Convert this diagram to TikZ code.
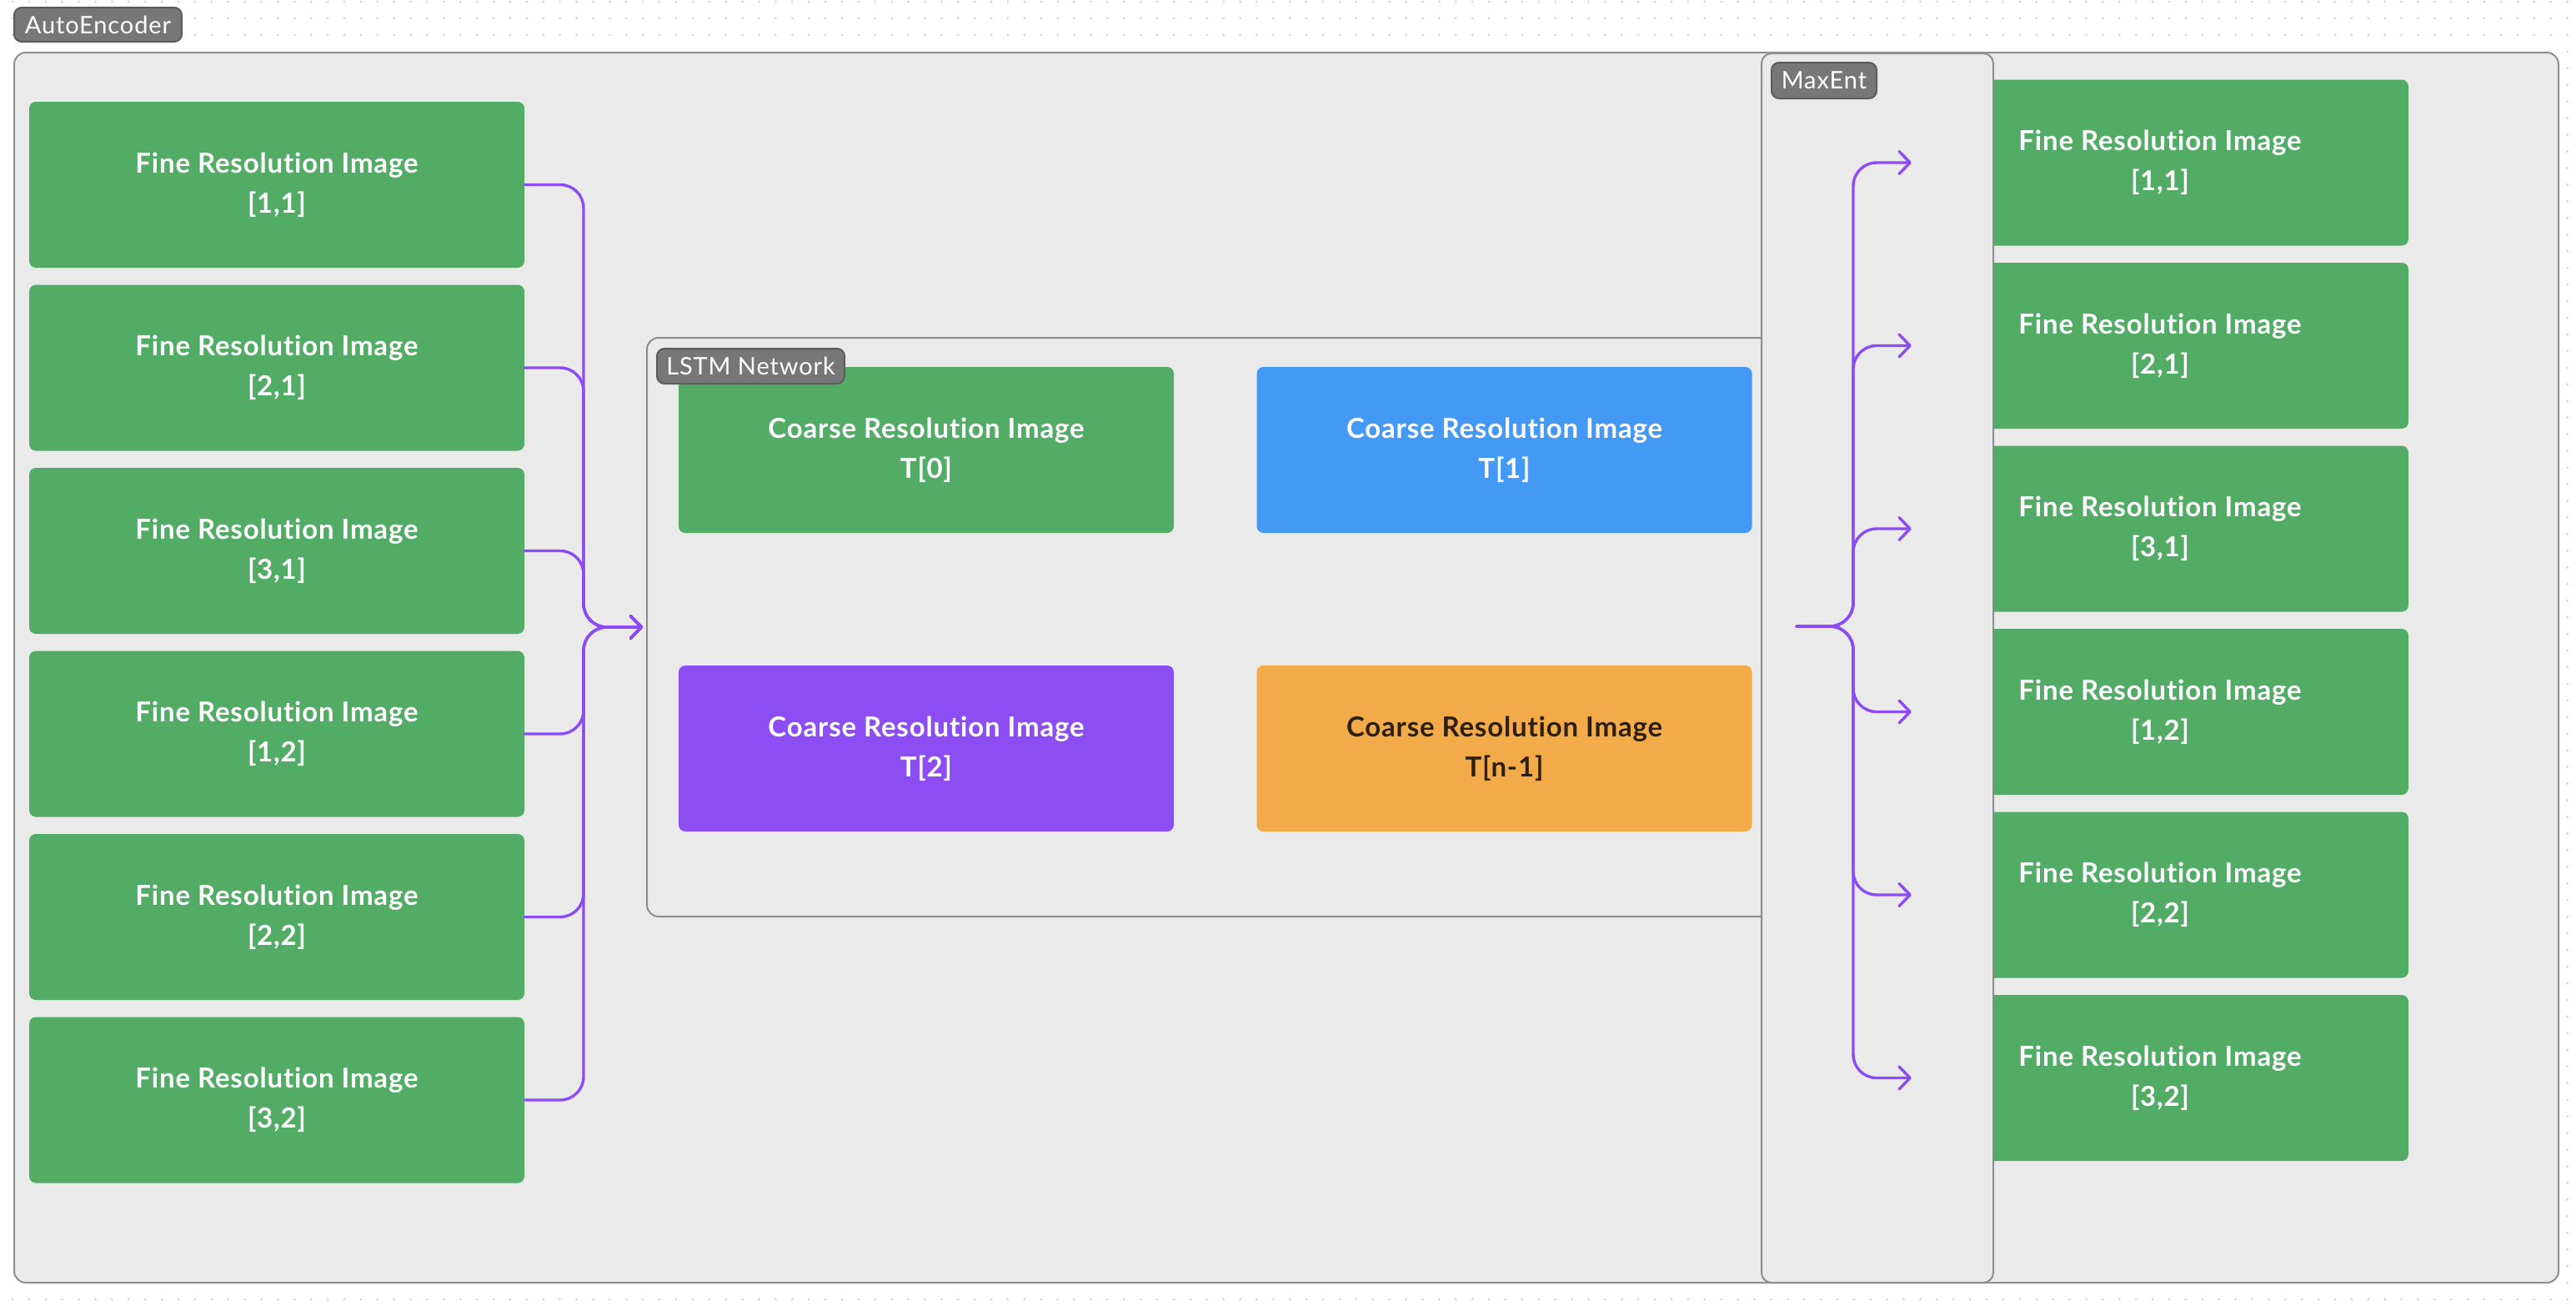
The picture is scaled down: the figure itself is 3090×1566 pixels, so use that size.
\documentclass[tikz,border=0pt]{standalone}
\usepackage{fontspec}
\newfontfamily\lato{Lato}[Ligatures=NoCommon, LetterSpace=2.5]
\newfontfamily\latotag{Lato}[Ligatures=NoCommon, LetterSpace=3]
\usetikzlibrary{arrows.meta}
\definecolor{gfill}{HTML}{52AC66}
\definecolor{bfill}{HTML}{4499F5}
\definecolor{pfill}{HTML}{8C4EF3}
\definecolor{ofill}{HTML}{F3AB4A}
\definecolor{otext}{HTML}{2E1F0B}
\definecolor{cfill}{HTML}{EAEAEA}
\definecolor{cline}{HTML}{8E8E8E}
\definecolor{lfill}{HTML}{777777}
\definecolor{lline}{HTML}{5C5C5C}
\definecolor{conn}{HTML}{8B4CF5}
\definecolor{dotc}{HTML}{CFCFCF}
\begin{document}
\begin{tikzpicture}[x=1pt,y=-1pt,
  imgbox/.style={rectangle, rounded corners=8pt, minimum width=594pt, minimum height=199pt,
    inner sep=0pt, align=center, text=white,
    font=\lato\bfseries\fontsize{33}{48}\selectfont},
  fine/.style={imgbox, fill=gfill},
  container/.style={rectangle, rounded corners=14pt, fill=cfill, draw=cline, line width=2pt,
    inner sep=0pt, anchor=north west},
  tag/.style={rectangle, rounded corners=9pt, fill=lfill, draw=lline, line width=2pt,
    inner sep=0pt, anchor=north west, text=white, font=\latotag\fontsize{29}{32}\selectfont},
  link/.style={draw=conn, line width=3.4pt, rounded corners=28pt, line cap=round},
  arr/.style={link, -{Straight Barb[length=13pt,width=27pt,round]}}
]
\useasboundingbox (0,0) rectangle (3090,1566);
\fill[white] (0,0) rectangle (3090,1566);
% dotted grid (visible only outside the container)
\foreach \k in {0,...,154} {
  \foreach \r in {0,1,2,78} {
    \fill[dotc] ({15+19.9*\k},{2+19.95*\r}) circle (1.4pt);
  }
}
\foreach \r in {3,...,77} {
  \fill[dotc] (3079.6,{2+19.95*\r}) circle (1.4pt);
}
% outer container
\node[container, minimum width=3052pt, minimum height=1475pt] (ae) at (16,62) {};
\node[tag, minimum width=201pt, minimum height=41pt] (aelbl) at (16,8) {AutoEncoder};
% LSTM container
\node[container, minimum width=1425pt, minimum height=694pt] (lstm) at (775,404) {};
\node[fine] (t0) at (1111,539.5) {Coarse Resolution Image\\T[0]};
\node[imgbox, fill=bfill] (t1) at (1804.5,539.5) {Coarse Resolution Image\\T[1]};
\node[imgbox, fill=pfill] (t2) at (1111,897.5) {Coarse Resolution Image\\T[2]};
\node[imgbox, fill=ofill, text=otext] (tn) at (1804.5,897.5) {Coarse Resolution Image\\T[n-1]};
\node[tag, minimum width=225pt, minimum height=42pt] (lstmlbl) at (787,417) {LSTM Network};
% left fine images
\node[fine] (l1) at (332,221.5) {Fine Resolution Image\\{[1,1]}};
\node[fine] (l2) at (332,441) {Fine Resolution Image\\{[2,1]}};
\node[fine] (l3) at (332,660.5) {Fine Resolution Image\\{[3,1]}};
\node[fine] (l4) at (332,880) {Fine Resolution Image\\{[1,2]}};
\node[fine] (l5) at (332,1099.5) {Fine Resolution Image\\{[2,2]}};
\node[fine] (l6) at (332,1319) {Fine Resolution Image\\{[3,2]}};
% right fine images
\node[fine, minimum width=596pt] (r1) at (2591,195) {Fine Resolution Image\\{[1,1]}};
\node[fine, minimum width=596pt] (r2) at (2591,414.5) {Fine Resolution Image\\{[2,1]}};
\node[fine, minimum width=596pt] (r3) at (2591,634) {Fine Resolution Image\\{[3,1]}};
\node[fine, minimum width=596pt] (r4) at (2591,853.5) {Fine Resolution Image\\{[1,2]}};
\node[fine, minimum width=596pt] (r5) at (2591,1073) {Fine Resolution Image\\{[2,2]}};
\node[fine, minimum width=596pt] (r6) at (2591,1292.5) {Fine Resolution Image\\{[3,2]}};
% MaxEnt container
\node[container, rounded corners=12pt, minimum width=278pt, minimum height=1474pt] (maxent) at (2112,63) {};
\node[tag, minimum width=126pt, minimum height=43pt] (melbl) at (2124,74) {MaxEnt};
% connectors: left images into LSTM
\coordinate (lin) at ([xshift=-4pt]lstm.west);
\foreach \n in {l1,l2,l3,l4,l5,l6} {
  \draw[arr] (\n.east) -- (700,0 |- \n.east) -- (700,0 |- lin) -- (lin);
}
% connectors: MaxEnt out to right images
\coordinate (mout) at (2155,751);
\foreach \n in {r1,r2,r3,r4,r5,r6} {
  \draw[arr] (mout) -- (2223,751) -- (2223,0 |- \n.west) -- (\n.west);
}
\end{tikzpicture}
\end{document}
